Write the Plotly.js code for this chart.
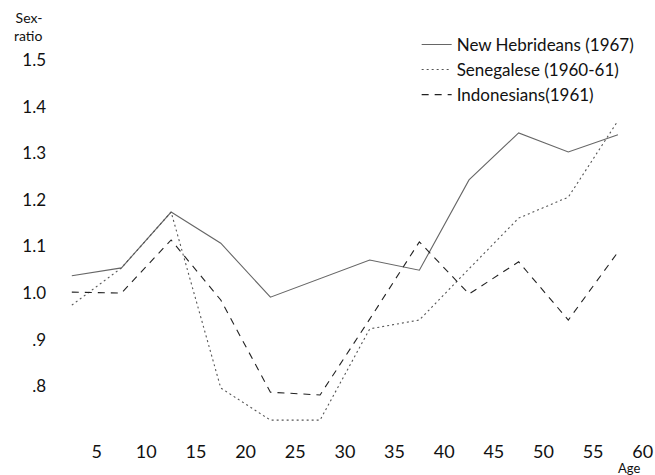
<!DOCTYPE html>
<html>
<head>
<meta charset="utf-8">
<script src="https://cdn.plot.ly/plotly-3.0.1.min.js"></script>
<style>html,body{margin:0;padding:0;background:#fff;}#chart{width:655px;height:475px;}</style>
</head>
<body>
<div id="chart"></div>
<script>
const ages = [2.5, 7.5, 12.5, 17.5, 22.5, 27.5, 32.5, 37.5, 42.5, 47.5, 52.5, 57.5];
const newHebrideans = [1.037, 1.054, 1.174, 1.107, 0.991, 1.031, 1.071, 1.049, 1.243, 1.344, 1.303, 1.340];
const senegalese = [0.974, 1.054, 1.174, 0.796, 0.727, 0.727, 0.923, 0.942, 1.052, 1.161, 1.206, 1.370];
const indonesians = [1.002, 1.000, 1.114, 0.985, 0.787, 0.781, 0.944, 1.110, 0.998, 1.067, 0.942, 1.088];
const seriesNames = ['New Hebrideans (1967)', 'Senegalese (1960-61)', 'Indonesians(1961)'];
const xTickVals = [5, 10, 15, 20, 25, 30, 35, 40, 45, 50, 55, 60];
const xTickText = ['5', '10', '15', '20', '25', '30', '35', '40', '45', '50', '55', '60'];
const yTickVals = [0.8, 0.9, 1.0, 1.1, 1.2, 1.3, 1.4, 1.5];
const yTickText = ['.8', '.9', '1.0', '1.1', '1.2', '1.3', '1.4', '1.5'];

const FONT = 'Lato, "Open Sans", sans-serif';

const traces = [
  {x: ages, y: newHebrideans, name: seriesNames[0], mode: 'lines', type: 'scatter',
   line: {color: '#666', width: 1.1, dash: 'solid'}},
  {x: ages, y: senegalese, name: seriesNames[1], mode: 'lines', type: 'scatter',
   line: {color: '#555', width: 1.1, dash: '2px,3px'}},
  {x: ages, y: indonesians, name: seriesNames[2], mode: 'lines', type: 'scatter',
   line: {color: '#222', width: 1.1, dash: '7px,6px'}}
];

const layout = {
  width: 655, height: 475,
  margin: {l: 47, r: 2, t: 37, b: 33},
  paper_bgcolor: '#fff', plot_bgcolor: '#fff',
  font: {family: FONT, color: '#111', size: 17},
  showlegend: true,
  legend: {x: 0.61, y: 1.025, xanchor: 'left', yanchor: 'top', bgcolor: 'rgba(0,0,0,0)',
           font: {family: FONT, size: 17, color: '#111'}, tracegroupgap: 0},
  xaxis: {range: [0, 61.03], showgrid: false, zeroline: false, showline: false, ticks: '',
          ticklabelstandoff: -3,
          tickvals: xTickVals, ticktext: xTickText, tickfont: {family: FONT, size: 18, color: '#111'}},
  yaxis: {range: [0.68, 1.55], showgrid: false, zeroline: false, showline: false, ticks: '',
          tickvals: yTickVals, ticktext: yTickText, tickfont: {family: FONT, size: 17, color: '#111'}},
  annotations: [
    {text: 'Sex-<br>ratio', xref: 'paper', yref: 'paper', x: -0.031, y: 1.025, xanchor: 'center', yanchor: 'middle',
     showarrow: false, align: 'right', font: {family: FONT, size: 14, color: '#111'}},
    {text: 'Age', xref: 'paper', yref: 'paper', x: 0.961, y: -0.064, xanchor: 'center', yanchor: 'middle',
     showarrow: false, font: {family: FONT, size: 13, color: '#111'}}
  ]
};

Plotly.newPlot('chart', traces, layout, {displayModeBar: false, staticPlot: true});
</script>
</body>
</html>
